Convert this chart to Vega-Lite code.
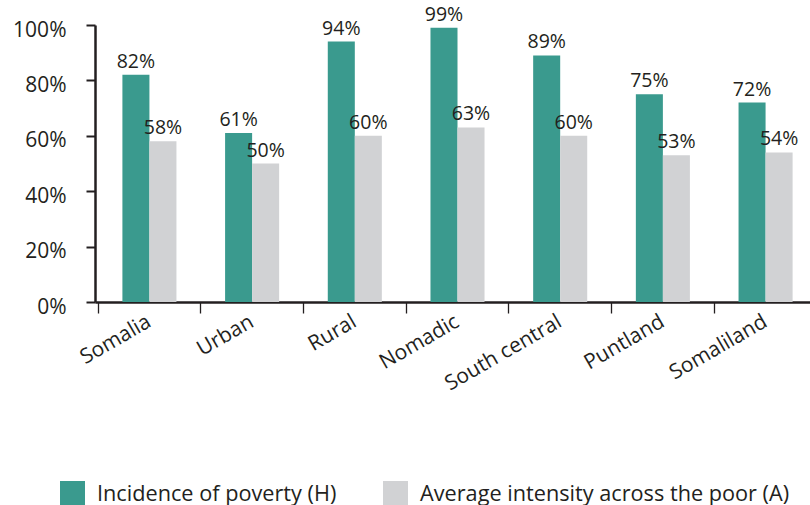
{
  "$schema": "https://vega.github.io/schema/vega-lite/v6.json",
  "width": 725,
  "height": 277,
  "autosize": "none",
  "padding": {"left": 95, "top": 25, "right": 0, "bottom": 203},
  "background": "white",
  "config": {
    "view": {"stroke": null},
    "font": "Open Sans",
    "axis": {"labelFont": "Open Sans", "labelColor": "#231f20", "domainColor": "#231f20", "tickColor": "#231f20"}
  },
  "data": {
    "values": [
      {"region": "Somalia", "measure": "Incidence of poverty (H)", "value": 82},
      {"region": "Somalia", "measure": "Average intensity across the poor (A)", "value": 58},
      {"region": "Urban", "measure": "Incidence of poverty (H)", "value": 61},
      {"region": "Urban", "measure": "Average intensity across the poor (A)", "value": 50},
      {"region": "Rural", "measure": "Incidence of poverty (H)", "value": 94},
      {"region": "Rural", "measure": "Average intensity across the poor (A)", "value": 60},
      {"region": "Nomadic", "measure": "Incidence of poverty (H)", "value": 99},
      {"region": "Nomadic", "measure": "Average intensity across the poor (A)", "value": 63},
      {"region": "South central", "measure": "Incidence of poverty (H)", "value": 89},
      {"region": "South central", "measure": "Average intensity across the poor (A)", "value": 60},
      {"region": "Puntland", "measure": "Incidence of poverty (H)", "value": 75},
      {"region": "Puntland", "measure": "Average intensity across the poor (A)", "value": 53},
      {"region": "Somaliland", "measure": "Incidence of poverty (H)", "value": 72},
      {"region": "Somaliland", "measure": "Average intensity across the poor (A)", "value": 54}
    ]
  },
  "encoding": {
    "x": {
      "field": "region", "type": "nominal", "sort": null,
      "scale": {"paddingInner": 0, "paddingOuter": 0.03},
      "axis": {
        "title": null, "bandPosition": 0,
        "labelAngle": -30, "labelAlign": "right", "labelBaseline": "middle",
        "labelFontSize": 21, "labelPadding": 7, "tickSize": 11, "tickWidth": 1.3,
        "domainWidth": 2.5
      }
    },
    "xOffset": {
      "field": "measure", "type": "nominal",
      "sort": ["Incidence of poverty (H)", "Average intensity across the poor (A)"],
      "scale": {"paddingInner": 0, "paddingOuter": 0.9}
    },
    "y": {
      "field": "value", "type": "quantitative",
      "scale": {"domain": [0, 100], "nice": false},
      "axis": {
        "title": null, "values": [0, 20, 40, 60, 80, 100], "grid": false,
        "labelExpr": "datum.value + '%'", "labelFontSize": 21, "labelPadding": 20,
        "labelOffset": 5, "tickSize": 9, "tickWidth": 2, "domainWidth": 2.5
      }
    }
  },
  "layer": [
    {
      "mark": {"type": "bar"},
      "encoding": {
        "color": {
          "field": "measure", "type": "nominal",
          "sort": ["Incidence of poverty (H)", "Average intensity across the poor (A)"],
          "scale": {"range": ["#3a9a8e", "#d1d2d4"]},
          "legend": {
            "title": null, "orient": "none", "legendX": -35, "legendY": 456,
            "direction": "horizontal", "symbolType": "square", "symbolSize": 625,
            "symbolStrokeWidth": 0, "symbolOpacity": 1,
            "labelFontSize": 21.7, "labelFont": "Open Sans", "labelColor": "#231f20",
            "labelOffset": 12, "columnPadding": 46, "padding": 0, "labelLimit": 0
          }
        }
      }
    },
    {
      "mark": {"type": "text", "baseline": "bottom", "dy": -3, "fontSize": 19.5, "color": "#231f20", "text": {"expr": "datum.value + '%'"}},
      "encoding": {
        "detail": {"field": "measure"}
      }
    }
  ]
}
